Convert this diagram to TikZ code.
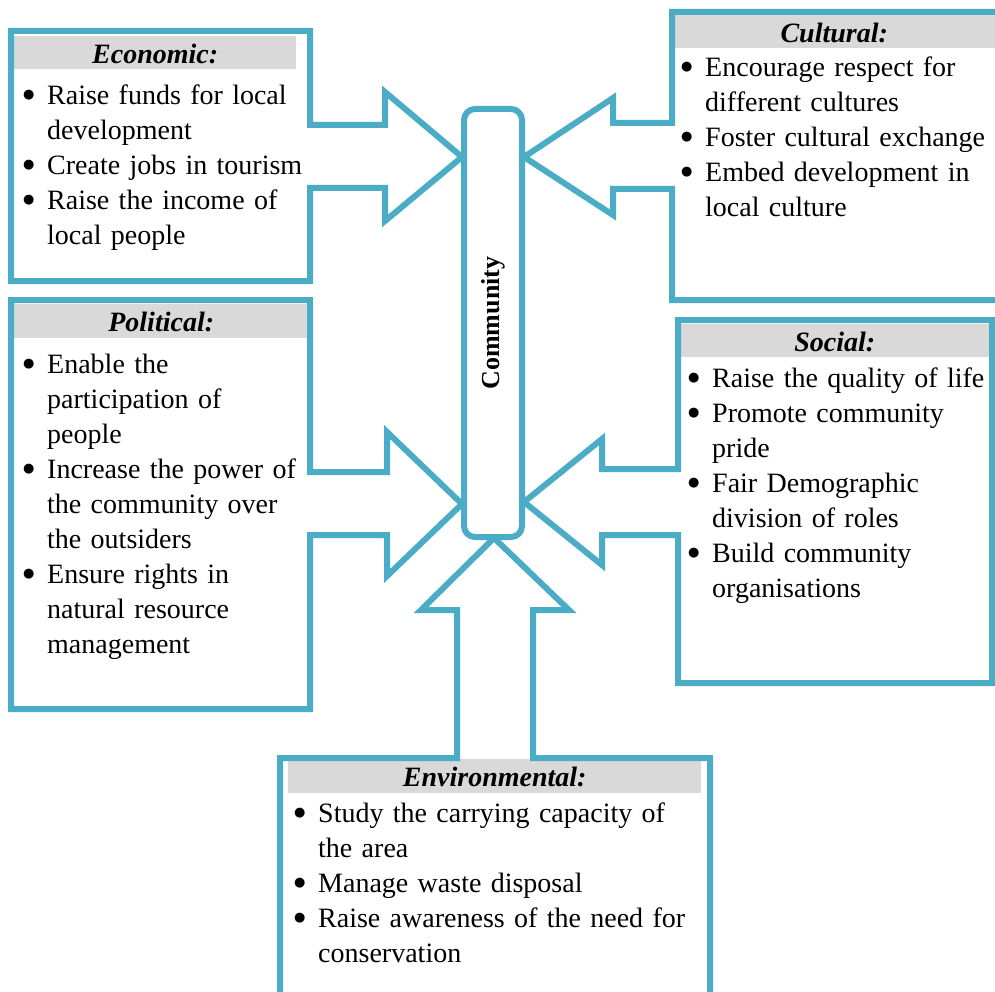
\documentclass[tikz,border=0pt]{standalone}
\usepackage{fontspec}
\setmainfont{Liberation Serif}
\newfontfamily\dotfont{DejaVu Sans}
\definecolor{framecol}{RGB}{75,172,198}
\definecolor{headgray}{RGB}{217,217,217}
% one bulleted line, and a continuation line indented under its text
\newcommand\bigdot{\raisebox{6pt}{\dotfont\fontsize{13}{13}\selectfont ●}}
\newcommand\bulletline[1]{\makebox[24pt][l]{\bigdot}#1\par}
\newcommand\contline[1]{\hspace*{24pt}#1\par}

\begin{document}
\begin{tikzpicture}[x=1pt,y=-1pt,
  callout/.style={draw=framecol,line width=6pt,line join=miter},
  hdr/.style={fill=headgray,anchor=north west,inner sep=0pt,text height=21pt,text depth=0pt,
    font=\fontsize{28}{35}\selectfont\bfseries\itshape},
  items/.style={anchor=base west,inner sep=0pt,text width=440pt,align=left,
    font=\fontsize{28}{35}\selectfont},
  commbox/.style={draw=framecol,line width=6pt,rounded corners=11pt,fill=white,inner sep=0pt,
    font=\fontsize{26}{30}\selectfont\bfseries}]
\useasboundingbox (0,0) rectangle (995,992);
\clip (0,0) rectangle (995,992);

% grey title bars
\node[hdr,minimum width=282pt,minimum height=33pt] (ecohead) at (14,36) {Economic:};
\node[hdr,minimum width=294pt,minimum height=34pt] (polhead) at (14,304) {Political:};
\node[hdr,minimum width=324pt,minimum height=33pt] (culhead) at (672,15) {Cultural:};
\node[hdr,minimum width=311pt,minimum height=33pt] (sochead) at (679,324) {Social:};
\node[hdr,minimum width=413pt,minimum height=34pt] (envhead) at (288,759) {Environmental:};

% box-and-arrow outlines pointing at the central bar
\draw[callout] (11,31) -- (310,31) -- (310,125) -- (385,125) -- (385,92) -- (462,157)
  -- (385,221) -- (385,188) -- (310,188) -- (310,281) -- (11,281) -- cycle;
\draw[callout] (11,300) -- (310,300) -- (310,472) -- (387,472) -- (387,432) -- (462,504)
  -- (387,576) -- (387,535) -- (310,535) -- (310,709) -- (11,709) -- cycle;
\draw[callout] (672,12) -- (1000,12) -- (1000,300) -- (672,300) -- (672,189) -- (613,189)
  -- (613,215) -- (524,157) -- (613,98) -- (613,123) -- (672,123) -- cycle;
\draw[callout] (678,320) -- (992,320) -- (992,683) -- (678,683) -- (678,535) -- (602,535)
  -- (602,565) -- (524,502) -- (602,439) -- (602,469) -- (678,469) -- cycle;
\draw[callout] (280,758) -- (457,758) -- (457,610) -- (421,610) -- (494,538) -- (569,610)
  -- (533,610) -- (533,758) -- (710,758) -- (710,1000) -- (280,1000) -- cycle;

% central bar
\node[commbox,rotate=90,minimum width=428pt,minimum height=58pt] (comm) at (493,323) {Community};

% bullet lists
\node[items] (ecoitems) at (23,105) {%
  \bulletline{Raise funds for local}
  \contline{development}
  \bulletline{Create jobs in tourism}
  \bulletline{Raise the income of}
  \contline{local people}};
\node[items] (politems) at (23,373) {%
  \bulletline{Enable the}
  \contline{participation of}
  \contline{people}
  \bulletline{Increase the power of}
  \contline{the community over}
  \contline{the outsiders}
  \bulletline{Ensure rights in}
  \contline{natural resource}
  \contline{management}};
\node[items] (culitems) at (681,77) {%
  \bulletline{Encourage respect for}
  \contline{different cultures}
  \bulletline{Foster cultural exchange}
  \bulletline{Embed development in}
  \contline{local culture}};
\node[items] (socitems) at (688,387) {%
  \bulletline{Raise the quality of life}
  \bulletline{Promote community}
  \contline{pride}
  \bulletline{Fair Demographic}
  \contline{division of roles}
  \bulletline{Build community}
  \contline{organisations}};
\node[items] (envitems) at (294,822) {%
  \bulletline{Study the carrying capacity of}
  \contline{the area}
  \bulletline{Manage waste disposal}
  \bulletline{Raise awareness of the need for}
  \contline{conservation}};
\end{tikzpicture}
\end{document}
